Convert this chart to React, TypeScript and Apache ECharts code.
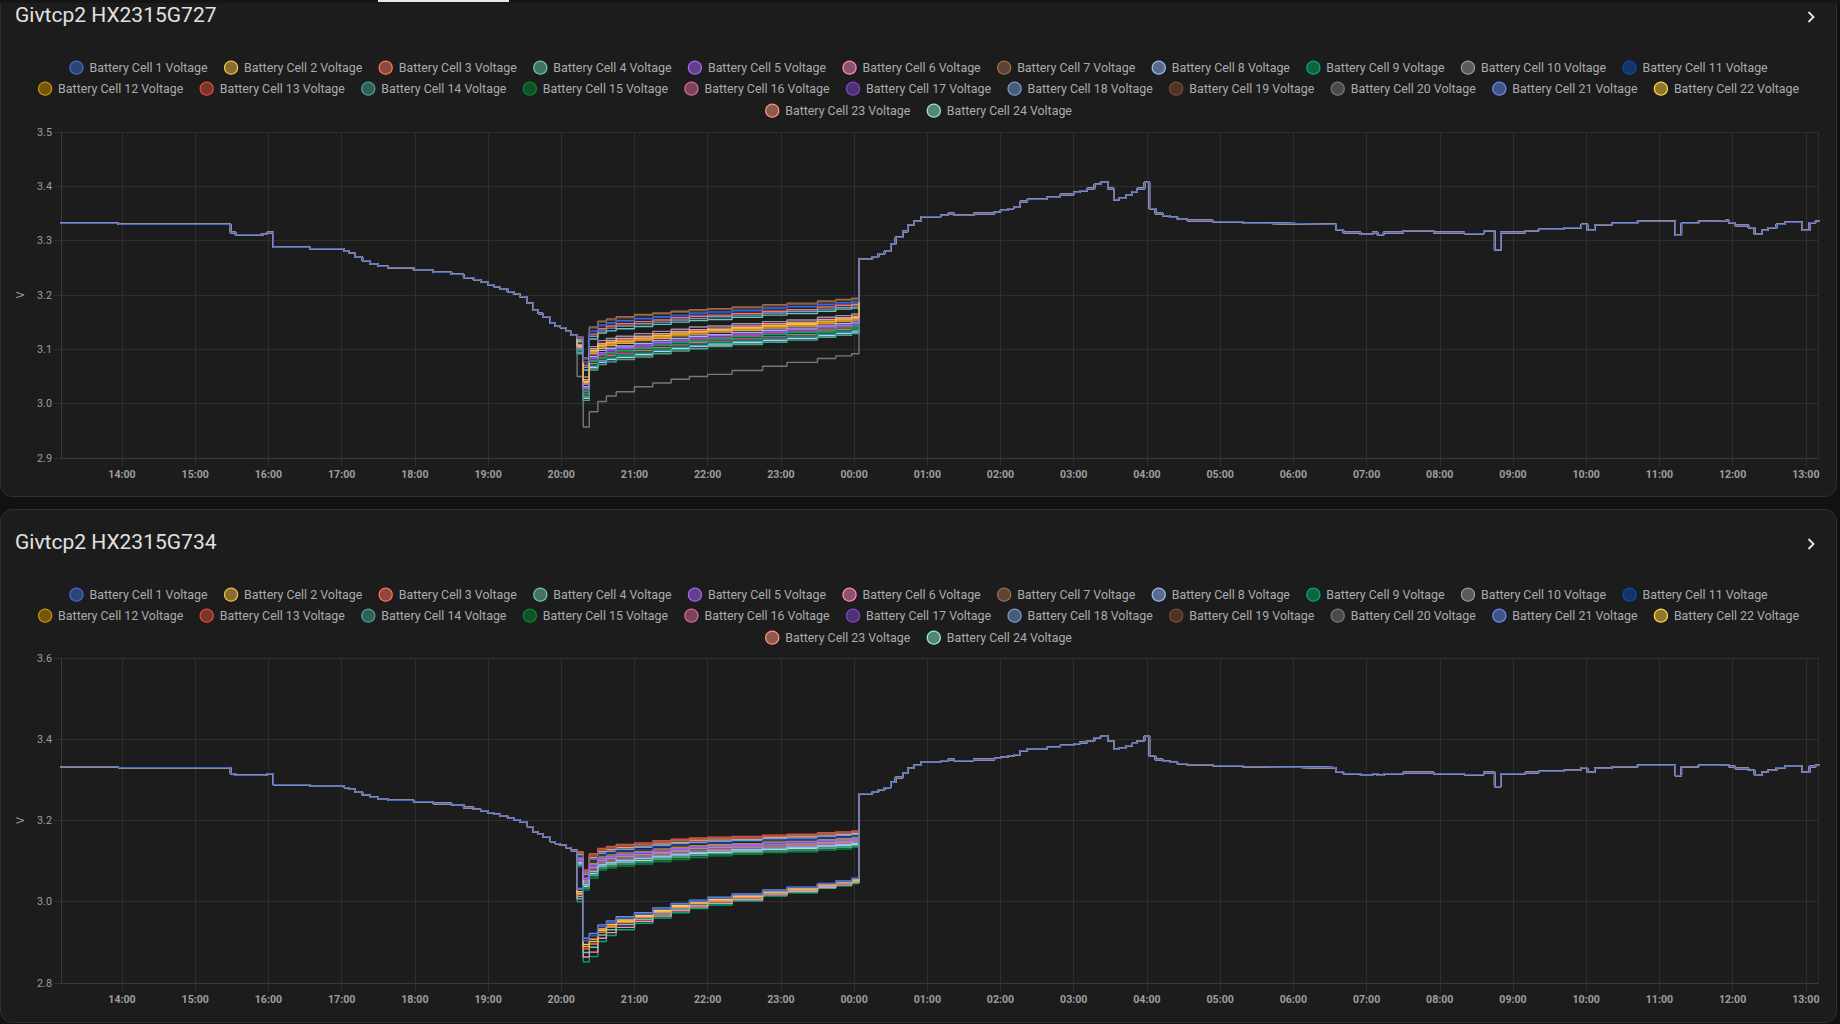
import React, { useEffect, useRef } from "react";
import * as echarts from "echarts";

// ---------- data ----------
const CELL_NAMES: string[] = [
  "Battery Cell 1 Voltage", "Battery Cell 2 Voltage", "Battery Cell 3 Voltage", "Battery Cell 4 Voltage",
  "Battery Cell 5 Voltage", "Battery Cell 6 Voltage", "Battery Cell 7 Voltage", "Battery Cell 8 Voltage",
  "Battery Cell 9 Voltage", "Battery Cell 10 Voltage", "Battery Cell 11 Voltage", "Battery Cell 12 Voltage",
  "Battery Cell 13 Voltage", "Battery Cell 14 Voltage", "Battery Cell 15 Voltage", "Battery Cell 16 Voltage",
  "Battery Cell 17 Voltage", "Battery Cell 18 Voltage", "Battery Cell 19 Voltage", "Battery Cell 20 Voltage",
  "Battery Cell 21 Voltage", "Battery Cell 22 Voltage", "Battery Cell 23 Voltage", "Battery Cell 24 Voltage",
];

const CELL_COLORS: string[] = [
  "#4269d0", "#f4bd4a", "#ff725c", "#6cc5b0", "#a463f2", "#ff8ab7", "#9c6b4e", "#97bbf5",
  "#01ab63", "#9498a0", "#094bad", "#c99000", "#d84f3e", "#49a28f", "#048732", "#d96895",
  "#8043ce", "#7599d1", "#7a4c31", "#74787a", "#6989f4", "#ffd444", "#ff957c", "#8fe9d3",
];

// legend rows (indices into CELL_NAMES)
const LEGEND_ROWS: number[][] = [
  [0, 1, 2, 3, 4, 5, 6, 7, 8, 9, 10],
  [11, 12, 13, 14, 15, 16, 17, 18, 19, 20, 21],
  [22, 23],
];

// shared trajectory, day 1 (before the evening divergence)
const BASE_BEFORE: [string, number][] = [
  ["13:00", 3.332], ["13:57", 3.330], ["15:29", 3.315], ["15:33", 3.311], ["15:53", 3.312],
  ["15:59", 3.315], ["16:04", 3.288], ["16:34", 3.285], ["17:02", 3.281], ["17:06", 3.277],
  ["17:11", 3.270], ["17:17", 3.263], ["17:23", 3.257], ["17:30", 3.253], ["17:38", 3.250],
  ["17:59", 3.246], ["18:15", 3.242], ["18:30", 3.238], ["18:40", 3.232], ["18:48", 3.228],
  ["18:54", 3.224], ["19:00", 3.219], ["19:05", 3.215], ["19:10", 3.211], ["19:16", 3.206],
  ["19:21", 3.202], ["19:26", 3.197], ["19:32", 3.185], ["19:37", 3.172], ["19:41", 3.166],
  ["19:45", 3.160], ["19:51", 3.148], ["19:55", 3.143], ["19:59", 3.140], ["20:04", 3.133],
  ["20:08", 3.126],
];

// shared trajectory, day 2 (after the midnight jump)
const BASE_AFTER: [string, number][] = [
  ["00:04", 3.266], ["00:15", 3.270], ["00:20", 3.276], ["00:25", 3.281], ["00:30", 3.294],
  ["00:34", 3.306], ["00:40", 3.317], ["00:44", 3.329], ["00:49", 3.336], ["00:55", 3.344],
  ["01:11", 3.347], ["01:17", 3.350], ["01:22", 3.347], ["01:38", 3.350], ["01:55", 3.353],
  ["02:00", 3.356], ["02:06", 3.359], ["02:11", 3.362], ["02:16", 3.372], ["02:22", 3.376],
  ["02:38", 3.380], ["02:49", 3.385], ["03:00", 3.389], ["03:05", 3.392], ["03:11", 3.396],
  ["03:17", 3.404], ["03:22", 3.408], ["03:28", 3.396], ["03:33", 3.375], ["03:37", 3.378],
  ["03:43", 3.384], ["03:48", 3.390], ["03:52", 3.396], ["03:58", 3.408], ["04:02", 3.359],
  ["04:07", 3.350], ["04:13", 3.346], ["04:19", 3.343], ["04:25", 3.340], ["04:33", 3.337],
  ["04:54", 3.335], ["05:19", 3.332], ["05:37", 3.331], ["06:05", 3.330], ["06:35", 3.320],
  ["06:41", 3.315], ["06:55", 3.312], ["07:05", 3.315], ["07:09", 3.311], ["07:14", 3.315],
  ["07:30", 3.318], ["07:55", 3.315], ["08:20", 3.313], ["08:36", 3.318], ["08:45", 3.283],
  ["08:50", 3.315], ["09:10", 3.318], ["09:21", 3.321], ["09:42", 3.324], ["09:56", 3.330],
  ["10:01", 3.319], ["10:07", 3.329], ["10:21", 3.332], ["10:42", 3.336], ["11:13", 3.310],
  ["11:18", 3.332], ["11:32", 3.336], ["11:46", 3.337], ["11:57", 3.333], ["12:02", 3.328],
  ["12:13", 3.324], ["12:18", 3.312], ["12:24", 3.319], ["12:29", 3.324], ["12:36", 3.330],
  ["12:43", 3.334], ["12:57", 3.319], ["13:03", 3.333], ["13:08", 3.336], ["13:20", 3.336],
];

// sample times of the per-cell evening segment (day 1)
const DIV_TIMES: string[] = [
  "20:13", "20:18", "20:23", "20:30", "20:37", "20:45", "21:00", "21:15", "21:30",
  "21:45", "22:00", "22:20", "22:45", "23:05", "23:30", "23:45", "23:58",
];

// Givtcp2 HX2315G727 – per cell values at DIV_TIMES (row = cell 1..24)
const G727_DIV: number[][] = [
  [3.120, 3.077, 3.134, 3.145, 3.149, 3.153, 3.157, 3.160, 3.163, 3.167, 3.169, 3.172, 3.176, 3.179, 3.183, 3.186, 3.188],
  [3.106, 3.041, 3.098, 3.108, 3.113, 3.117, 3.121, 3.126, 3.130, 3.133, 3.136, 3.140, 3.144, 3.148, 3.152, 3.156, 3.158],
  [3.118, 3.071, 3.128, 3.138, 3.143, 3.147, 3.151, 3.154, 3.158, 3.161, 3.163, 3.166, 3.170, 3.173, 3.178, 3.181, 3.183],
  [3.114, 3.062, 3.119, 3.130, 3.134, 3.138, 3.142, 3.146, 3.150, 3.153, 3.155, 3.159, 3.163, 3.166, 3.170, 3.174, 3.176],
  [3.101, 3.028, 3.084, 3.094, 3.099, 3.103, 3.108, 3.113, 3.117, 3.121, 3.125, 3.128, 3.132, 3.136, 3.141, 3.144, 3.147],
  [3.107, 3.044, 3.101, 3.111, 3.116, 3.120, 3.124, 3.129, 3.133, 3.136, 3.139, 3.143, 3.147, 3.150, 3.155, 3.158, 3.161],
  [3.123, 3.084, 3.141, 3.152, 3.156, 3.160, 3.164, 3.167, 3.170, 3.173, 3.175, 3.178, 3.182, 3.185, 3.189, 3.192, 3.194],
  [3.102, 3.031, 3.087, 3.098, 3.102, 3.106, 3.111, 3.116, 3.120, 3.124, 3.127, 3.131, 3.135, 3.139, 3.143, 3.147, 3.150],
  [3.098, 3.022, 3.078, 3.088, 3.093, 3.097, 3.102, 3.107, 3.112, 3.115, 3.119, 3.123, 3.127, 3.131, 3.135, 3.139, 3.142],
  [3.109, 3.049, 3.105, 3.116, 3.120, 3.124, 3.129, 3.133, 3.137, 3.141, 3.143, 3.147, 3.151, 3.154, 3.159, 3.162, 3.165],
  [3.119, 3.075, 3.132, 3.142, 3.147, 3.151, 3.155, 3.158, 3.161, 3.164, 3.167, 3.170, 3.174, 3.177, 3.181, 3.184, 3.186],
  [3.104, 3.037, 3.094, 3.104, 3.109, 3.113, 3.117, 3.122, 3.126, 3.130, 3.133, 3.137, 3.141, 3.144, 3.149, 3.152, 3.155],
  [3.099, 3.023, 3.079, 3.090, 3.094, 3.098, 3.103, 3.108, 3.113, 3.117, 3.120, 3.124, 3.128, 3.132, 3.137, 3.141, 3.143],
  [3.092, 3.006, 3.062, 3.072, 3.077, 3.081, 3.086, 3.092, 3.097, 3.101, 3.105, 3.109, 3.113, 3.117, 3.122, 3.126, 3.129],
  [3.096, 3.015, 3.071, 3.082, 3.086, 3.090, 3.095, 3.101, 3.106, 3.110, 3.113, 3.117, 3.121, 3.125, 3.130, 3.134, 3.137],
  [3.097, 3.018, 3.074, 3.084, 3.089, 3.093, 3.098, 3.103, 3.108, 3.112, 3.115, 3.119, 3.123, 3.127, 3.132, 3.136, 3.139],
  [3.100, 3.025, 3.082, 3.092, 3.097, 3.101, 3.105, 3.111, 3.115, 3.119, 3.122, 3.126, 3.130, 3.134, 3.139, 3.142, 3.145],
  [3.116, 3.067, 3.124, 3.134, 3.139, 3.143, 3.147, 3.150, 3.154, 3.157, 3.160, 3.163, 3.167, 3.170, 3.174, 3.177, 3.180],
  [3.122, 3.082, 3.139, 3.150, 3.154, 3.158, 3.162, 3.165, 3.168, 3.171, 3.173, 3.176, 3.180, 3.183, 3.187, 3.190, 3.192],
  [3.050, 2.957, 2.985, 3.004, 3.014, 3.022, 3.031, 3.038, 3.045, 3.050, 3.054, 3.061, 3.069, 3.076, 3.083, 3.088, 3.092],
  [3.095, 3.013, 3.069, 3.079, 3.084, 3.088, 3.093, 3.099, 3.104, 3.107, 3.111, 3.115, 3.119, 3.123, 3.128, 3.132, 3.135],
  [3.105, 3.039, 3.095, 3.106, 3.110, 3.114, 3.119, 3.123, 3.128, 3.131, 3.134, 3.138, 3.142, 3.146, 3.150, 3.154, 3.156],
  [3.104, 3.036, 3.092, 3.102, 3.107, 3.111, 3.116, 3.120, 3.125, 3.128, 3.132, 3.135, 3.139, 3.143, 3.147, 3.151, 3.154],
  [3.094, 3.010, 3.066, 3.076, 3.081, 3.085, 3.090, 3.096, 3.101, 3.105, 3.108, 3.112, 3.116, 3.120, 3.125, 3.129, 3.132],
];

// Givtcp2 HX2315G734 – per cell values at DIV_TIMES (row = cell 1..24)
const G734_DIV: number[][] = [
  [3.030, 2.904, 2.916, 2.939, 2.949, 2.960, 2.970, 2.982, 2.994, 3.002, 3.009, 3.017, 3.027, 3.035, 3.044, 3.050, 3.057],
  [3.021, 2.890, 2.902, 2.929, 2.940, 2.952, 2.964, 2.976, 2.988, 2.997, 3.004, 3.013, 3.024, 3.031, 3.041, 3.047, 3.053],
  [3.018, 2.884, 2.896, 2.925, 2.937, 2.949, 2.961, 2.974, 2.986, 2.995, 3.002, 3.011, 3.022, 3.030, 3.040, 3.046, 3.052],
  [3.013, 2.875, 2.888, 2.918, 2.931, 2.944, 2.957, 2.970, 2.982, 2.991, 3.000, 3.009, 3.020, 3.028, 3.038, 3.044, 3.050],
  [3.106, 3.056, 3.091, 3.107, 3.112, 3.117, 3.122, 3.127, 3.131, 3.135, 3.138, 3.141, 3.145, 3.147, 3.151, 3.153, 3.156],
  [3.007, 2.864, 2.876, 2.910, 2.924, 2.937, 2.952, 2.965, 2.978, 2.987, 2.996, 3.005, 3.017, 3.025, 3.035, 3.041, 3.048],
  [3.120, 3.074, 3.113, 3.127, 3.132, 3.137, 3.141, 3.146, 3.150, 3.153, 3.155, 3.157, 3.161, 3.163, 3.167, 3.169, 3.171],
  [3.096, 3.042, 3.074, 3.092, 3.097, 3.102, 3.107, 3.112, 3.117, 3.121, 3.125, 3.128, 3.132, 3.134, 3.138, 3.141, 3.144],
  [3.000, 2.852, 2.865, 2.902, 2.917, 2.931, 2.947, 2.960, 2.973, 2.983, 2.992, 3.002, 3.014, 3.022, 3.033, 3.039, 3.045],
  [3.103, 3.051, 3.085, 3.102, 3.107, 3.112, 3.116, 3.122, 3.126, 3.131, 3.134, 3.137, 3.140, 3.142, 3.146, 3.149, 3.152],
  [3.112, 3.063, 3.100, 3.115, 3.120, 3.125, 3.129, 3.135, 3.139, 3.143, 3.145, 3.148, 3.151, 3.153, 3.157, 3.159, 3.162],
  [3.108, 3.058, 3.094, 3.110, 3.115, 3.120, 3.124, 3.130, 3.134, 3.138, 3.141, 3.143, 3.147, 3.149, 3.153, 3.155, 3.158],
  [3.123, 3.078, 3.118, 3.131, 3.136, 3.141, 3.145, 3.150, 3.154, 3.157, 3.159, 3.161, 3.164, 3.166, 3.170, 3.172, 3.174],
  [3.090, 3.034, 3.064, 3.083, 3.088, 3.093, 3.098, 3.104, 3.109, 3.114, 3.118, 3.121, 3.125, 3.127, 3.131, 3.134, 3.138],
  [3.086, 3.029, 3.058, 3.078, 3.083, 3.088, 3.093, 3.099, 3.104, 3.109, 3.113, 3.117, 3.121, 3.123, 3.127, 3.130, 3.134],
  [3.100, 3.048, 3.081, 3.098, 3.103, 3.108, 3.113, 3.118, 3.123, 3.127, 3.130, 3.134, 3.137, 3.139, 3.143, 3.146, 3.149],
  [3.104, 3.053, 3.088, 3.104, 3.109, 3.114, 3.119, 3.124, 3.129, 3.133, 3.136, 3.139, 3.142, 3.144, 3.148, 3.151, 3.154],
  [3.115, 3.067, 3.105, 3.119, 3.124, 3.129, 3.134, 3.139, 3.143, 3.146, 3.149, 3.151, 3.155, 3.157, 3.161, 3.163, 3.165],
  [3.122, 3.077, 3.116, 3.129, 3.134, 3.139, 3.143, 3.148, 3.152, 3.156, 3.158, 3.160, 3.163, 3.165, 3.169, 3.171, 3.173],
  [3.098, 3.045, 3.077, 3.095, 3.100, 3.105, 3.110, 3.115, 3.120, 3.124, 3.128, 3.131, 3.135, 3.137, 3.141, 3.143, 3.147],
  [3.033, 2.910, 2.922, 2.943, 2.953, 2.963, 2.973, 2.985, 2.996, 3.004, 3.011, 3.019, 3.029, 3.036, 3.045, 3.051, 3.058],
  [3.025, 2.895, 2.908, 2.933, 2.944, 2.955, 2.966, 2.979, 2.990, 2.999, 3.006, 3.015, 3.025, 3.032, 3.042, 3.048, 3.055],
  [3.117, 3.071, 3.109, 3.123, 3.128, 3.133, 3.137, 3.142, 3.146, 3.150, 3.152, 3.154, 3.158, 3.160, 3.164, 3.166, 3.168],
  [3.093, 3.038, 3.069, 3.088, 3.093, 3.098, 3.102, 3.108, 3.113, 3.118, 3.121, 3.125, 3.129, 3.131, 3.135, 3.138, 3.141],
];

const WINDOW_START = "13:10"; // day 1
const WINDOW_END = "13:10"; // day 2

// ---------- helpers ----------
const DAY0 = [2025, 2, 10];
function ts(hhmm: string, dayOffset: number): number {
  const [h, m] = hhmm.split(":").map(Number);
  return new Date(DAY0[0], DAY0[1], DAY0[2] + dayOffset, h, m, 0).getTime();
}
function rgba(hex: string, a: number): string {
  const n = parseInt(hex.slice(1), 16);
  return `rgba(${(n >> 16) & 255},${(n >> 8) & 255},${n & 255},${a})`;
}

const FONT = "Roboto";
const GRID_COLOR = "#2e2e2e";
const AXIS_COLOR = "#3a3a3a";
const LABEL_COLOR = "#9e9e9e";

function buildOption(title: string, div: number[][], yMin: number, yMax: number, yInterval: number, gridTop: number, gridHeight: number) {
  const series: any[] = [];
  for (let i = CELL_NAMES.length - 1; i >= 0; i--) {
    const data: [number, number][] = [
      ...BASE_BEFORE.map(([t, v]) => [ts(t, 0), v] as [number, number]),
      ...DIV_TIMES.map((t, j) => [ts(t, 0), div[i][j]] as [number, number]),
      ...BASE_AFTER.map(([t, v]) => [ts(t, 1), v] as [number, number]),
    ];
    series.push({
      type: "line",
      name: CELL_NAMES[i],
      step: "end",
      symbol: "none",
      showSymbol: false,
      silent: true,
      data,
      lineStyle: { color: CELL_COLORS[i], width: 1.4 },
      itemStyle: { color: CELL_COLORS[i] },
      emphasis: { disabled: true },
    });
  }
  const rowCenters = [85, 106, 128];
  const legend = LEGEND_ROWS.map((row, r) => ({
    data: row.map((i) => ({
      name: CELL_NAMES[i],
      itemStyle: { color: rgba(CELL_COLORS[i], 0.5), borderColor: CELL_COLORS[i], borderWidth: 1.3 },
    })),
    left: "center",
    top: rowCenters[r] - 6.5,
    orient: "horizontal",
    icon: "circle",
    itemWidth: 16,
    itemHeight: 13,
    itemGap: 16.3,
    padding: 0,
    textStyle: { color: "#ababab", fontSize: 12.4, fontFamily: FONT },
  }));
  return {
    animation: false,
    backgroundColor: "transparent",
    legend,
    graphic: [
      {
        type: "text",
        x: 15,
        y: 33,
        style: { text: title, fill: "#e1e1e1", fontSize: 21, fontFamily: FONT, verticalAlign: "middle", align: "left" },
      },
      {
        type: "polyline",
        shape: { points: [[1808.5, 30], [1813.5, 35], [1808.5, 40]] },
        style: { stroke: "#e6e6e6", lineWidth: 1.8, fill: "none" },
      },
    ],
    grid: { left: 61, top: gridTop, width: 1757, height: gridHeight, containLabel: false },
    xAxis: {
      type: "time",
      min: ts(WINDOW_START, 0),
      max: ts(WINDOW_END, 1),
      minInterval: 3600 * 1000,
      maxInterval: 3600 * 1000,
      splitNumber: 24,
      axisLine: { show: true, lineStyle: { color: AXIS_COLOR } },
      axisTick: { show: true, length: 8, lineStyle: { color: GRID_COLOR } },
      splitLine: { show: true, lineStyle: { color: GRID_COLOR } },
      axisLabel: { formatter: "{HH}:{mm}", color: LABEL_COLOR, fontSize: 10.6, fontWeight: "bold", fontFamily: FONT, margin: 11 },
    },
    yAxis: {
      type: "value",
      min: yMin,
      max: yMax,
      interval: yInterval,
      name: "V",
      nameLocation: "middle",
      nameGap: 30,
      nameTextStyle: { color: LABEL_COLOR, fontSize: 11, fontFamily: FONT },
      axisLine: { show: true, lineStyle: { color: AXIS_COLOR } },
      axisTick: { show: true, length: 7, lineStyle: { color: GRID_COLOR } },
      splitLine: { show: true, lineStyle: { color: GRID_COLOR } },
      axisLabel: { formatter: (v: number) => v.toFixed(1), color: LABEL_COLOR, fontSize: 10.8, fontFamily: FONT, margin: 9 },
    },
    series,
  };
}

function Card(props: { top: number; height: number; title: string; div: number[][]; yMin: number; yMax: number; yInterval: number; gridTop: number; gridHeight: number }) {
  const ref = useRef<HTMLDivElement>(null);
  useEffect(() => {
    if (!ref.current) return;
    const chart = echarts.init(ref.current, undefined, { renderer: "svg" });
    chart.setOption(buildOption(props.title, props.div, props.yMin, props.yMax, props.yInterval, props.gridTop, props.gridHeight));
    return () => chart.dispose();
  }, []);
  return (
    <div
      style={{
        position: "absolute",
        left: 0,
        top: props.top,
        width: 1837,
        height: props.height,
        boxSizing: "border-box",
        border: "1px solid #2f2f2f",
        borderRadius: 12,
        background: "#1c1c1c",
        overflow: "hidden",
      }}
    >
      <div ref={ref} style={{ position: "absolute", left: -1, top: -1, width: 1837, height: props.height }} />
    </div>
  );
}

export default function App() {
  useEffect(() => {
    document.body.style.margin = "0";
    document.body.style.background = "#111111";
  }, []);
  return (
    <div style={{ position: "fixed", left: 0, top: 0, width: 1840, height: 1024, background: "#111111", overflow: "hidden" }}>
      <Card top={-18} height={515} title="Givtcp2 HX2315G727" div={G727_DIV} yMin={2.9} yMax={3.5} yInterval={0.1} gridTop={150} gridHeight={326} />
      <Card top={509} height={514} title="Givtcp2 HX2315G734" div={G734_DIV} yMin={2.8} yMax={3.6} yInterval={0.2} gridTop={149} gridHeight={325} />
      <div style={{ position: "absolute", left: 0, top: 0, width: 1840, height: 3, background: "#151515" }} />
      <div style={{ position: "absolute", left: 378, top: 0, width: 131, height: 2, background: "#e8e8e8" }} />
    </div>
  );
}
